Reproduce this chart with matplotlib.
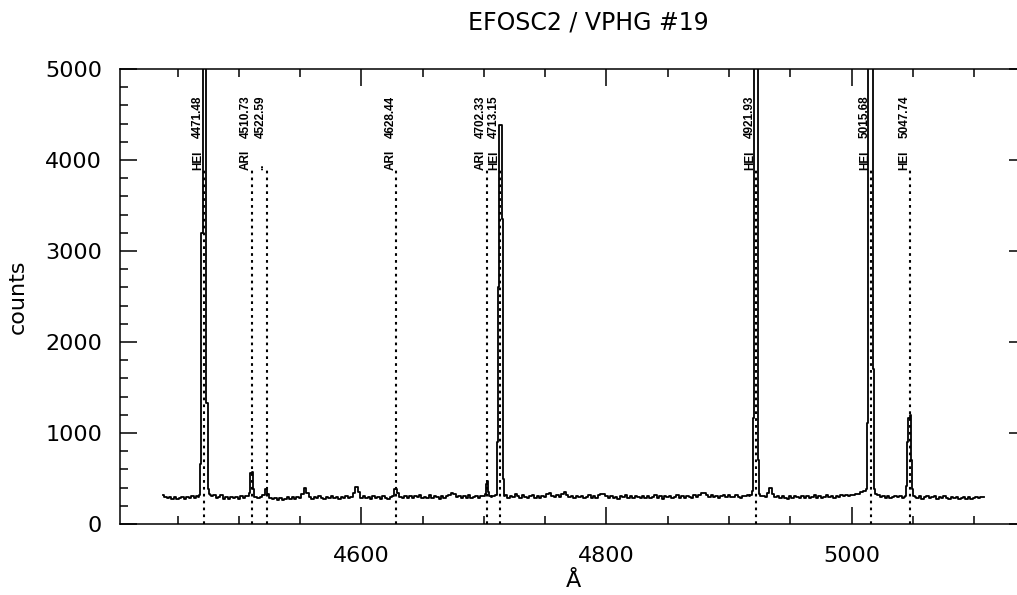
import numpy as np
import matplotlib
matplotlib.use("Agg")
import matplotlib.pyplot as plt
from matplotlib.ticker import MultipleLocator, FixedLocator

# ---------------- data ----------------
title = "EFOSC2 / VPHG #19"
x_label = "Å"
y_label = "counts"
x_major_ticks = [4600, 4800, 5000]
y_major_ticks = [0, 1000, 2000, 3000, 4000, 5000]

# continuum / baseline, sampled every 2 A starting at 4438 A
base_start = 4438.0
base_step = 2.0
base_counts = [
    318, 296, 284, 300, 279, 292, 270, 288, 301, 276, 295, 283, 305, 290, 312, 335, 300, 300, 330, 322,   # 4438-4476
    305, 318, 288, 300, 314, 280, 296, 275, 302, 284, 298, 271, 305, 289, 310, 318, 300, 300, 300, 284,   # 4478-4516
    302, 318, 385, 330, 285, 272, 290, 268, 284, 262, 279, 295, 270, 292, 280, 301, 288, 330, 392, 340,   # 4518-4556
    296, 279, 300, 282, 305, 288, 274, 297, 284, 310, 281, 295, 276, 300, 287, 308, 282, 296, 340, 410,   # 4558-4596
    352, 291, 305, 282, 299, 276, 310, 286, 301, 280, 306, 291, 274, 302, 312, 385, 340, 302, 284, 309,   # 4598-4636
    288, 311, 282, 305, 296, 320, 284, 301, 290, 315, 286, 307, 292, 278, 310, 289, 304, 318, 340, 325,   # 4638-4676
    296, 312, 284, 305, 290, 316, 282, 300, 310, 286, 305, 318, 300, 300, 300, 312, 300, 300, 300, 300,   # 4678-4716
    318, 290, 312, 296, 330, 306, 288, 314, 295, 284, 309, 320, 291, 303, 283, 310, 298, 335, 342, 310,   # 4718-4756
    296, 318, 300, 328, 350, 318, 292, 310, 285, 306, 292, 312, 281, 300, 316, 290, 305, 285, 314, 330,   # 4758-4796
    334, 306, 290, 312, 284, 300, 278, 306, 292, 314, 288, 303, 281, 309, 296, 285, 312, 290, 306, 283,   # 4798-4836
    300, 315, 287, 306, 280, 312, 294, 308, 283, 302, 318, 290, 305, 284, 311, 296, 289, 316, 300, 318,   # 4838-4876
    338, 346, 316, 300, 318, 292, 310, 288, 306, 321, 298, 314, 302, 292, 316, 300, 289, 312, 305, 322,   # 4878-4916
    320, 320, 320, 320, 320, 312, 300, 340, 392, 326, 296, 312, 285, 306, 290, 279, 303, 288, 311, 292,   # 4918-4956
    282, 305, 290, 312, 284, 299, 316, 288, 306, 281, 300, 318, 292, 309, 287, 312, 298, 316, 303, 320,   # 4958-4996
    306, 324, 314, 332, 326, 348, 358, 360, 360, 360, 330, 312, 320, 298, 312, 290, 306, 284, 300, 310,   # 4998-5036
    292, 306, 288, 300, 300, 300, 300, 300, 285, 305, 280, 298, 310, 286, 293, 304, 279, 300, 288, 306,   # 5038-5076
    290, 276, 301, 285, 296, 272, 288, 299, 278, 292, 270, 286, 298, 281, 294, 302,                       # 5078-5108
]

# strong lines, sampled every 1 A (first wavelength, counts); >5000 runs off the plot
line_4471_start = 4467.0
line_4471_counts = [300, 320, 660, 3200, 20000, 20000, 20000, 1330, 380, 325, 318]
line_4510_start = 4508.0
line_4510_counts = [305, 340, 555, 570, 380, 300]
line_4702_start = 4700.0
line_4702_counts = [305, 330, 440, 476, 350, 305]
line_4713_start = 4710.0
line_4713_counts = [320, 900, 2600, 4380, 4380, 3350, 500, 310]
line_4921_start = 4917.0
line_4921_counts = [310, 320, 360, 1165, 20000, 20000, 20000, 700, 330, 312]
line_5015_start = 5011.0
line_5015_counts = [365, 380, 1110, 20000, 20000, 20000, 20000, 1700, 380, 335]
line_5047_start = 5043.0
line_5047_counts = [300, 310, 420, 900, 1170, 1200, 700, 380, 305]

# line identifications
id_waves = [4471.48, 4510.73, 4522.59, 4628.44, 4702.33, 4713.15, 4921.93, 5015.68, 5047.74]
id_names = ["HEI", "ARI", "..", "ARI", "ARI", "HEI", "HEI", "HEI", "HEI"]

# ---------------- build spectrum ----------------
wave = base_start + base_step * np.arange(len(base_counts))
counts = np.array(base_counts, dtype=float)
fine = [
    (line_4471_start, line_4471_counts),
    (line_4510_start, line_4510_counts),
    (line_4702_start, line_4702_counts),
    (line_4713_start, line_4713_counts),
    (line_4921_start, line_4921_counts),
    (line_5015_start, line_5015_counts),
    (line_5047_start, line_5047_counts),
]
for w0, vals in fine:
    fw = w0 + np.arange(len(vals))
    keep = (wave < fw[0]) | (wave > fw[-1])
    wave = np.concatenate([wave[keep], fw])
    counts = np.concatenate([counts[keep], np.array(vals, dtype=float)])
order = np.argsort(wave)
wave = wave[order]
counts = counts[order]

# ---------------- figure ----------------
plt.rcParams["font.family"] = "DejaVu Sans"
W, H = 1017, 595
fig = plt.figure(figsize=(W / 100, H / 100), dpi=100)
ax_left, ax_right, ax_top, ax_bottom = 119.5, 1025.5, 69.0, 524.0
ax = fig.add_axes([ax_left / W, 1 - ax_bottom / H, (ax_right - ax_left) / W, (ax_bottom - ax_top) / H])

ax.plot(wave, counts, drawstyle="steps-mid", color="black", lw=1.3)

for wl, name in zip(id_waves, id_names):
    ax.plot([wl, wl], [0, 3900], color="black", lw=1.5, dashes=(1.3, 2.0))
    ax.annotate(name, xy=(wl, 3890), xytext=(-4.2, 0), textcoords="offset points",
                rotation=90, ha="center", va="bottom",
                fontsize=8.5, fontweight="bold", family="Liberation Sans")
    ax.annotate(f"{wl:.2f}", xy=(wl, 4240), xytext=(-4.2, 0), textcoords="offset points",
                rotation=90, ha="center", va="bottom",
                fontsize=8.5, fontweight="bold", family="Liberation Sans")

ax.set_xlim(4402.6, 5142.0)
ax.set_ylim(0, 5000)
ax.xaxis.set_major_locator(FixedLocator(x_major_ticks))
ax.xaxis.set_minor_locator(MultipleLocator(50))
ax.yaxis.set_major_locator(FixedLocator(y_major_ticks))
ax.yaxis.set_minor_locator(MultipleLocator(200))
ax.tick_params(which="both", direction="in", top=True, right=True, width=1.1, colors="black")
ax.tick_params(which="major", length=12.2)
ax.tick_params(which="minor", length=5.8)
ax.tick_params(axis="x", which="major", pad=15.5, labelsize=16)
ax.tick_params(axis="y", which="major", pad=12.5, labelsize=16)
for s in ax.spines.values():
    s.set_linewidth(1.1)

fig.text(588 / W, 1 - 22 / H, title, ha="center", va="center", fontsize=17)
fig.text(18 / W, 1 - 297 / H, y_label, ha="center", va="center", rotation=90, fontsize=16)
fig.text(573 / W, 1 - 581 / H, x_label, ha="center", va="center", fontsize=16)

fig.savefig("out.png", dpi=100)
